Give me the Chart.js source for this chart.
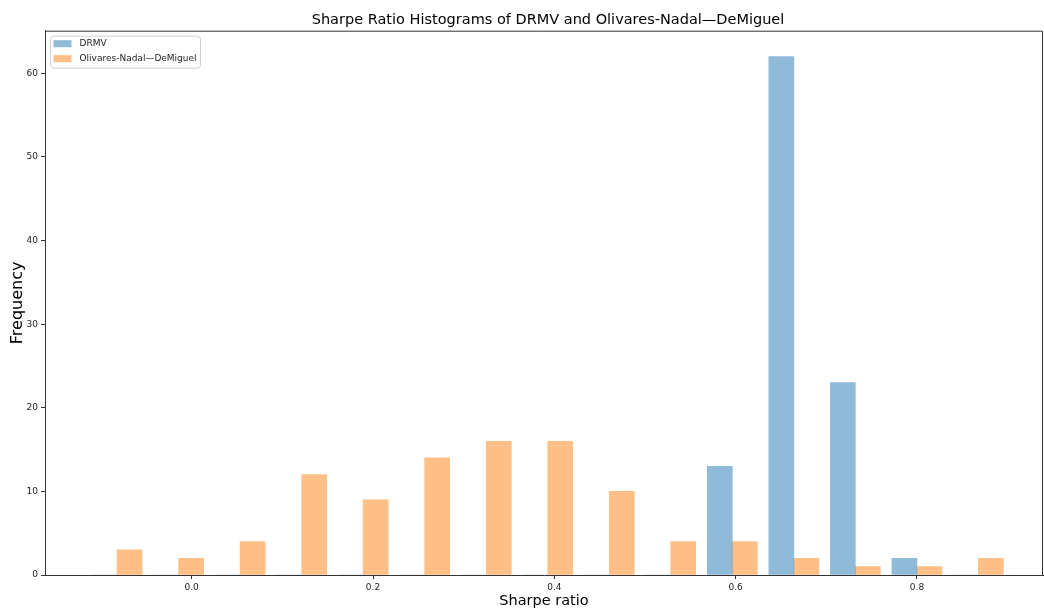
<!DOCTYPE html>
<html>
<head>
<meta charset="utf-8">
<title>Sharpe Ratio Histograms</title>
<script src="https://cdn.jsdelivr.net/npm/chart.js@4.4.0/dist/chart.umd.min.js"></script>
<style>
  html, body { margin: 0; padding: 0; background: #fff; }
  #wrap { width: 1044px; height: 611px; }
</style>
</head>
<body>
<div id="wrap"><canvas id="histChart" width="1044" height="611"></canvas></div>
<script>
// Centres of the shared histogram bins (Sharpe ratio)
const binCenters = [-0.0823, -0.0144, 0.0534, 0.1213, 0.1891, 0.2570, 0.3249, 0.3927,
                    0.4606, 0.5284, 0.5963, 0.6642, 0.7320, 0.7999, 0.8677];

// Frequencies per bin
const drmvCounts = [0, 0, 0, 0, 0, 0, 0, 0, 0, 0, 13, 62, 23, 2, 0];
const ondCounts = [3, 2, 4, 12, 9, 14, 16, 16, 10, 4, 4, 2, 1, 1, 2];

// Axis ticks and ranges
const xTicks = [0.0, 0.2, 0.4, 0.6, 0.8];
const yTicks = [0, 10, 20, 30, 40, 50, 60];
const xRange = [-0.1618, 0.939];
const yRange = [0, 65.1];

const seriesLabels = ['DRMV', 'Olivares-Nadal\u2014DeMiguel'];
const chartTitle = 'Sharpe Ratio Histograms of DRMV and Olivares-Nadal\u2014DeMiguel';

const FONT = '"DejaVu Sans", "Liberation Sans", sans-serif';
const AXIS = '#333';
const colors = ['rgba(31, 119, 180, 0.5)', 'rgba(255, 127, 14, 0.5)'];

function toPoints(counts) {
    return counts.map((c, i) => ({ x: binCenters[i], y: c }));
}

// Title, top/right spines and the boxed legend, matplotlib style
const framePlugin = {
    id: 'frame',
    afterDraw(chart) {
        const { ctx, chartArea: a } = chart;
        ctx.save();

        ctx.strokeStyle = AXIS;
        ctx.lineWidth = 1;
        ctx.beginPath();
        ctx.moveTo(a.left, a.top + 0.5);
        ctx.lineTo(a.right - 0.5, a.top + 0.5);
        ctx.lineTo(a.right - 0.5, a.bottom);
        ctx.stroke();

        ctx.fillStyle = '#000';
        ctx.font = '14.5px ' + FONT;
        ctx.textAlign = 'center';
        ctx.textBaseline = 'alphabetic';
        ctx.fillText(chartTitle, (a.left + a.right) / 2 + 4, 24);

        // legend box
        const bx = a.left + 5.5, by = a.top + 5.5, bw = 150, bh = 32;
        ctx.beginPath();
        ctx.roundRect(bx, by, bw, bh, 3);
        ctx.fillStyle = 'rgba(255,255,255,0.8)';
        ctx.fill();
        ctx.strokeStyle = '#d0d0d0';
        ctx.stroke();

        ctx.font = '9px ' + FONT;
        ctx.textAlign = 'left';
        ctx.textBaseline = 'middle';
        chart.data.datasets.forEach((ds, i) => {
            const cy = by + 7.5 + i * 15;
            ctx.fillStyle = ds.backgroundColor;
            ctx.fillRect(bx + 3, cy - 3.5, 18, 7);
            ctx.fillStyle = '#222';
            ctx.fillText(ds.label, bx + 29, cy);
        });

        ctx.restore();
    }
};

const ctx = document.getElementById('histChart');
window.histChart = new Chart(ctx, {
    type: 'bar',
    data: {
        datasets: [
            { label: seriesLabels[0], data: toPoints(drmvCounts), backgroundColor: colors[0] },
            { label: seriesLabels[1], data: toPoints(ondCounts), backgroundColor: colors[1] }
        ]
    },
    options: {
        responsive: false,
        animation: false,
        barThickness: 25,
        layout: { padding: { top: 30.7, right: 1, left: 0, bottom: 0 } },
        plugins: {
            legend: { display: false },
            tooltip: { enabled: false },
            title: { display: false }
        },
        scales: {
            x: {
                type: 'linear',
                offset: false,
                min: xRange[0],
                max: xRange[1],
                afterBuildTicks: (scale) => { scale.ticks = xTicks.map(v => ({ value: v })); },
                afterFit: (scale) => { scale.height = 36; },
                ticks: {
                    color: '#222',
                    font: { family: FONT, size: 9 },
                    padding: 3,
                    maxRotation: 0,
                    callback: (v) => v.toFixed(1)
                },
                grid: { drawOnChartArea: false, offset: false, tickLength: 4, color: AXIS },
                border: { display: true, color: AXIS, width: 1 },
                title: {
                    display: true,
                    text: 'Sharpe ratio',
                    color: '#000',
                    font: { family: FONT, size: 14.5 },
                    padding: { top: 0, bottom: 1 }
                }
            },
            y: {
                min: yRange[0],
                max: yRange[1],
                afterBuildTicks: (scale) => { scale.ticks = yTicks.map(v => ({ value: v })); },
                afterFit: (scale) => { scale.width = 45; },
                ticks: {
                    color: '#222',
                    font: { family: FONT, size: 9 },
                    padding: 3
                },
                grid: { drawOnChartArea: false, offset: false, tickLength: 4, color: AXIS },
                border: { display: true, color: AXIS, width: 1 },
                title: {
                    display: true,
                    text: 'Frequency',
                    color: '#000',
                    font: { family: FONT, size: 16 },
                    padding: { top: 8, bottom: 0 }
                }
            }
        }
    },
    plugins: [framePlugin]
});
</script>
</body>
</html>
